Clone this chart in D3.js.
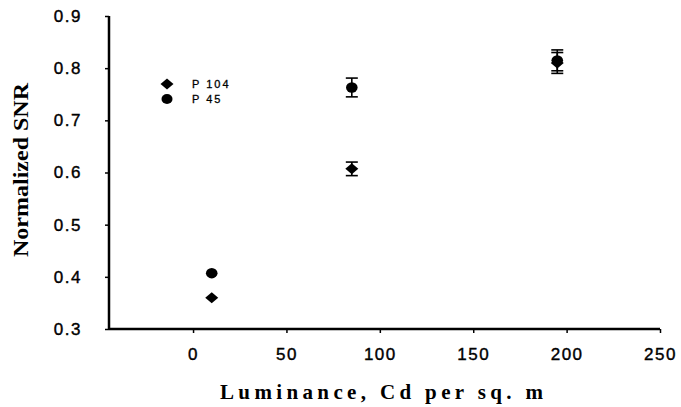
<!DOCTYPE html>
<html><head><meta charset="utf-8">
<script src="https://cdn.jsdelivr.net/npm/d3@7"></script>
<style>body{margin:0;background:#fff}svg{display:block}</style>
</head><body>
<svg id="c" width="681" height="407"></svg>
<script>
const xTicks = [0, 50, 100, 150, 200, 250];
const yTicks = [0.3, 0.4, 0.5, 0.6, 0.7, 0.8, 0.9];
const seriesNames = ["P 104", "P 45"];
const luminance = [10, 85, 195];
const p104 = [0.36, 0.607, 0.81];
const p104Err = [0, 0.013, 0.02];
const p45 = [0.407, 0.763, 0.815];
const p45Err = [0, 0.018, 0.02];

const svg = d3.select("#c");
const x = d3.scaleLinear().domain([-45, 250]).range([109, 660]);
const y = d3.scaleLinear().domain([0.3, 0.9]).range([329, 16]);

const sans = "Liberation Sans, Arial, sans-serif";
const serif = "Liberation Serif, Times New Roman, serif";

// axes
const xAxis = svg.append("g").attr("transform", "translate(0,329)")
  .call(d3.axisBottom(x).tickValues(xTicks).tickSize(4).tickSizeOuter(0).tickPadding(15));
xAxis.select(".domain").remove();
xAxis.selectAll("text").attr("font-family", sans)
  .attr("font-size", 17).attr("letter-spacing", "1.5px").attr("fill", "#000")
  .attr("stroke", "#000").attr("stroke-width", 0.4);
xAxis.selectAll("line").attr("stroke", "#000").attr("stroke-width", 1.5);
svg.append("line").attr("x1", x(-45)).attr("x2", x(250)).attr("y1", 329).attr("y2", 329)
  .attr("stroke", "#000").attr("stroke-width", 2.5);

const yAxis = svg.append("g").attr("transform", "translate(109,0)")
  .call(d3.axisLeft(y).tickValues(yTicks).tickFormat(d3.format(".1f")).tickSize(4).tickSizeOuter(0).tickPadding(23));
yAxis.select(".domain").remove();
yAxis.selectAll("text").attr("font-family", sans)
  .attr("font-size", 17).attr("letter-spacing", "1.5px").attr("fill", "#000")
  .attr("stroke", "#000").attr("stroke-width", 0.4);
yAxis.selectAll("line").attr("stroke", "#000").attr("stroke-width", 1.5);
svg.append("line").attr("x1", 109).attr("x2", 109).attr("y1", y(0.9)).attr("y2", 330)
  .attr("stroke", "#000").attr("stroke-width", 2.5);

// titles
svg.append("text").attr("x", 220).attr("y", 399).attr("textLength", 323)
  .attr("lengthAdjust", "spacing")
  .attr("font-family", serif).attr("font-weight", "bold")
  .attr("font-size", 21).text("Luminance, Cd per sq. m");
svg.append("text").attr("transform", "translate(28,170) rotate(-90)").attr("text-anchor", "middle")
  .attr("textLength", 174).attr("lengthAdjust", "spacingAndGlyphs")
  .attr("font-family", serif).attr("font-weight", "bold")
  .attr("font-size", 21).text("Normalized SNR");

// error bars
function errBars(vals, errs) {
  const g = svg.append("g").attr("stroke", "#000").attr("stroke-width", 1.6);
  luminance.forEach((l, i) => {
    if (!errs[i]) return;
    const cx = x(l), t = y(vals[i] + errs[i]), b = y(vals[i] - errs[i]);
    g.append("line").attr("x1", cx).attr("x2", cx).attr("y1", t).attr("y2", b);
    g.append("line").attr("x1", cx - 6).attr("x2", cx + 6).attr("y1", t).attr("y2", t);
    g.append("line").attr("x1", cx - 6).attr("x2", cx + 6).attr("y1", b).attr("y2", b);
  });
}
errBars(p104, p104Err);
errBars(p45, p45Err);

const diamond = "M0,-5.5L6.5,0L0,5.5L-6.5,0Z";
svg.append("g").selectAll("path").data(luminance).join("path")
  .attr("d", diamond).attr("fill", "#000")
  .attr("transform", (d, i) => `translate(${x(d)},${y(p104[i])})`);
svg.append("g").selectAll("ellipse").data(luminance).join("ellipse")
  .attr("cx", d => x(d)).attr("cy", (d, i) => y(p45[i])).attr("rx", 5.8).attr("ry", 5.2).attr("fill", "#000");

// legend
const lg = svg.append("g");
lg.append("path").attr("d", diamond).attr("transform", "translate(167,84)").attr("fill", "#000");
lg.append("ellipse").attr("cx", 167).attr("cy", 99).attr("rx", 5.5).attr("ry", 5).attr("fill", "#000");
[84, 99].forEach((yy, i) => {
  lg.append("text").attr("x", 192).attr("y", yy + 4).attr("font-family", sans)
    .attr("font-size", 11).attr("letter-spacing", "2px").attr("fill", "#000")
    .attr("stroke", "#000").attr("stroke-width", 0.3).text(seriesNames[i]);
});
</script>
</body></html>
